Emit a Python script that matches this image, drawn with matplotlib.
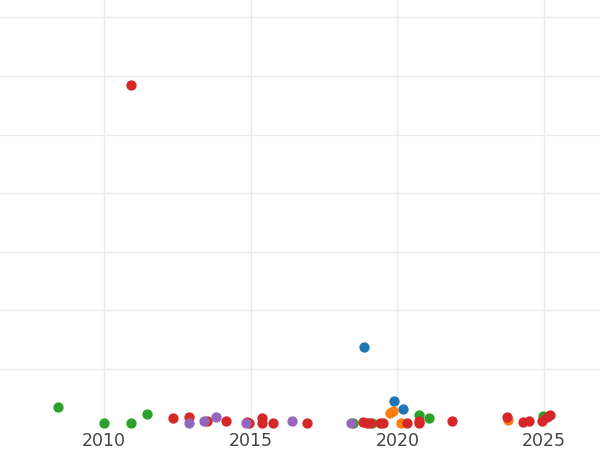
import matplotlib.pyplot as plt

# values (x = year, y = value)
blue_x = [2018.86, 2019.88, 2020.19]
blue_y = [68.8, 22.7, 15.9]

orange_x = [2019.74, 2019.85, 2020.12, 2023.77]
orange_y = [12.5, 14.2, 3.9, 6.4]

green_x = [2008.43, 2010.0, 2010.92, 2011.47, 2018.48, 2019.13, 2020.73, 2021.07, 2024.96]
green_y = [17.6, 3.9, 3.9, 11.6, 3.9, 3.9, 10.8, 8.2, 9.9]

red_x = [2010.92, 2012.35, 2012.90, 2013.51, 2014.16, 2014.87, 2014.94, 2015.38, 2015.38,
         2015.76, 2016.92, 2018.82, 2018.96, 2019.06, 2019.40, 2019.51, 2020.32, 2020.73,
         2020.73, 2021.86, 2023.73, 2024.28, 2024.48, 2024.92, 2025.09, 2025.20]
red_y = [292.3, 8.2, 9.0, 5.6, 5.6, 4.8, 3.9, 8.2, 3.9,
         3.9, 3.9, 4.8, 3.9, 3.9, 3.9, 3.9, 3.9, 5.6,
         3.9, 5.6, 9.0, 4.8, 5.6, 5.6, 9.0, 10.8]

purple_x = [2012.90, 2013.41, 2013.82, 2014.84, 2016.41, 2018.42]
purple_y = [3.9, 5.6, 9.0, 3.9, 5.6, 3.9]

xticks = [2010, 2015, 2020, 2025]
yticks = [0, 50, 100, 150, 200, 250, 300, 350]

fig = plt.figure(figsize=(6, 4.5), dpi=100)
ax = fig.add_axes([0, 0.0498, 1, 0.9502])

series = [(blue_x, blue_y, '#1f77b4'), (orange_x, orange_y, '#ff7f0e'),
          (green_x, green_y, '#2ca02c'), (red_x, red_y, '#d62728'),
          (purple_x, purple_y, '#9467bd')]
for xs, ys, c in series:
    ax.scatter(xs, ys, s=55, color=c, linewidths=0, zorder=3, clip_on=False)

ax.set_xlim(2006.457, 2026.9)
ax.set_ylim(0, 364.8)
ax.set_xticks(xticks)
ax.set_yticks(yticks)
ax.set_yticklabels([])
ax.grid(True, color='#ebebeb', linewidth=1.0, zorder=0)
ax.set_axisbelow(True)
for s in ax.spines.values():
    s.set_visible(False)
ax.tick_params(axis='both', length=0)
ax.tick_params(axis='x', labelsize=12.5, labelcolor='#444444', pad=3)

fig.savefig('out.png', dpi=100)
